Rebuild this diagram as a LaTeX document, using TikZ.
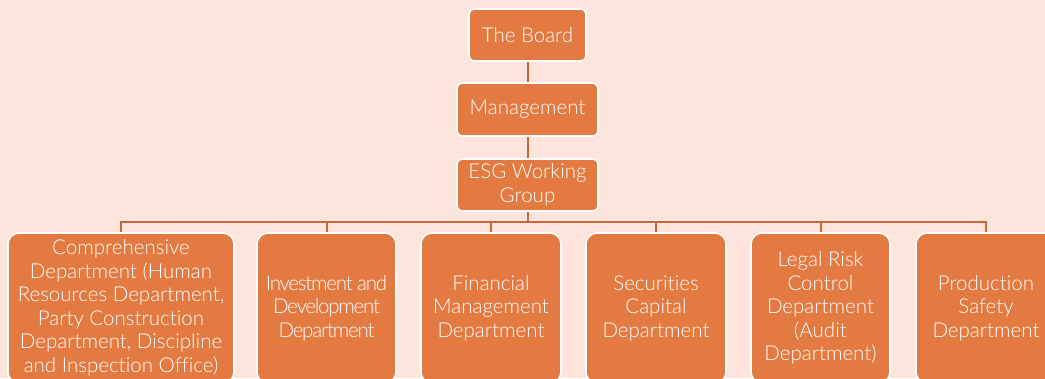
\documentclass[tikz,border=0pt]{standalone}
\usepackage{fontspec}
\setmainfont{Lato}[UprightFont=* Light, Ligatures={NoCommon}]
\definecolor{pagebg}{HTML}{FDE5DD}
\definecolor{boxfill}{HTML}{E37A42}
\definecolor{linkcol}{HTML}{C36A3B}
\tikzset{
  orgbox/.style={draw=white, line width=1.6pt, fill=boxfill, rounded corners=5pt,
    text=white, inner sep=0pt, align=center,
    font=\fontsize{20.5}{23.5}\selectfont},
  deptbox/.style={orgbox, rounded corners=11pt, minimum height=150pt},
  link/.style={draw=linkcol, line width=2pt}
}
\newcommand\tightline{\addfontfeatures{LetterSpace=-6}}
\begin{document}
\begin{tikzpicture}[x=1pt,y=-1pt]
  \useasboundingbox (0,0) rectangle (1045,378);
  \fill[pagebg] (0,0) rectangle (1045,378);

  % top of the chart
  \node[orgbox, minimum width=117pt, minimum height=52pt] (board) at (527.5,35) {The Board};
  \node[orgbox, minimum width=141pt, minimum height=53pt] (mgmt) at (527.5,109.5) {Management};
  \node[orgbox, minimum width=141pt, minimum height=52pt] (esg) at (527.5,185) {ESG Working\\Group};

  % departments
  \node[deptbox, minimum width=226pt] (d1) at (121,308)
    {Comprehensive\\Department (Human\\Resources Department,\\Party Construction\\Department, Discipline\\and Inspection Office)};
  \node[deptbox, minimum width=139pt] (d2) at (326.5,308)
    {\tightline Investment and\\\tightline Development\\\tightline Department};
  \node[deptbox, minimum width=140pt] (d3) at (491,308) {Financial\\Management\\Department};
  \node[deptbox, minimum width=140pt] (d4) at (656,308) {Securities\\Capital\\Department};
  \node[deptbox, minimum width=139pt] (d5) at (820.5,308) {Legal Risk\\Control\\Department\\(Audit\\Department)};
  \node[deptbox, minimum width=140pt] (d6) at (986,308) {Production\\Safety\\Department};

  % connectors
  \coordinate (bus) at (527.5,222);
  \draw[link] (board.south) -- (mgmt.north);
  \draw[link] (mgmt.south) -- (esg.north);
  \draw[link] (esg.south) -- (bus);
  \foreach \d in {d1,d2,d3,d4,d5,d6}
    \draw[link] (bus) -| (\d.north);
\end{tikzpicture}
\end{document}
